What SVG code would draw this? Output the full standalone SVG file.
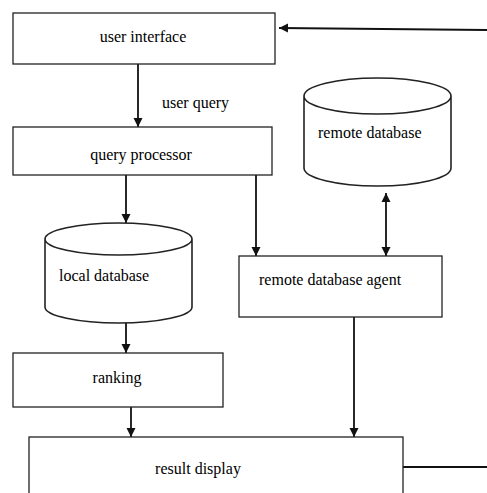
<svg xmlns="http://www.w3.org/2000/svg" width="487" height="493" viewBox="0 0 487 493">
<defs>
<style>
.box{fill:#fff;stroke:#222;stroke-width:1.3}
.db{fill:#fff;stroke:#222;stroke-width:1.6}
.t{font-family:'Liberation Serif', serif;font-size:16px;fill:#000}
.c{stroke:#111;stroke-width:1.8;fill:none}
</style>
<marker id="ah" viewBox="0 0 10 10" refX="10" refY="5" markerWidth="9" markerHeight="10" markerUnits="userSpaceOnUse" orient="auto-start-reverse">
<path d="M0,0 L10,5 L0,10 Z" fill="#111"/>
</marker>
</defs>
<rect width="487" height="493" fill="#fff"/>
<g id="connectors">
<line class="c" x1="138" y1="64" x2="138" y2="127" marker-end="url(#ah)"/>
<line class="c" x1="126" y1="175" x2="126" y2="223" marker-end="url(#ah)"/>
<line class="c" x1="256" y1="175" x2="256" y2="256" marker-end="url(#ah)"/>
<line class="c" x1="386" y1="193" x2="386" y2="256" marker-start="url(#ah)" marker-end="url(#ah)"/>
<line class="c" x1="126" y1="323" x2="126" y2="353" marker-end="url(#ah)"/>
<line class="c" x1="131" y1="402" x2="131" y2="437" marker-end="url(#ah)"/>
<line class="c" x1="354" y1="317" x2="354" y2="437" marker-end="url(#ah)"/>
<line class="c" x1="403" y1="467" x2="487" y2="467"/>
<line class="c" x1="487" y1="30" x2="279" y2="28" marker-end="url(#ah)"/>
<text class="t" x="162" y="108">user query</text>
</g>
<g id="user-interface">
<rect class="box" x="13" y="13" width="262" height="51"/>
<text class="t" x="143" y="42" text-anchor="middle">user interface</text>
</g>
<g id="query-processor">
<rect class="box" x="13" y="127" width="259" height="48"/>
<text class="t" x="141" y="160" text-anchor="middle">query processor</text>
</g>
<g id="remote-database">
<path class="db" d="M304,96 L304,168 A73.5,18 0 0 0 451,168 L451,96 A73.5,18 0 0 0 304,96 A73.5,18 0 0 0 451,96"/>
<text class="t" x="318" y="138">remote database</text>
</g>
<g id="local-database">
<path class="db" d="M45,239 L45,307 A73.5,16 0 0 0 192,307 L192,239 A73.5,16 0 0 0 45,239 A73.5,16 0 0 0 192,239"/>
<text class="t" x="59" y="281">local database</text>
</g>
<g id="remote-database-agent">
<rect class="box" x="239" y="256" width="203" height="61"/>
<text class="t" x="259" y="285">remote database agent</text>
</g>
<g id="ranking">
<rect class="box" x="13" y="353" width="210" height="54"/>
<text class="t" x="117" y="383" text-anchor="middle">ranking</text>
</g>
<g id="result-display">
<rect class="box" x="29" y="437" width="374" height="70"/>
<text class="t" x="198" y="474" text-anchor="middle">result display</text>
</g>
</svg>
